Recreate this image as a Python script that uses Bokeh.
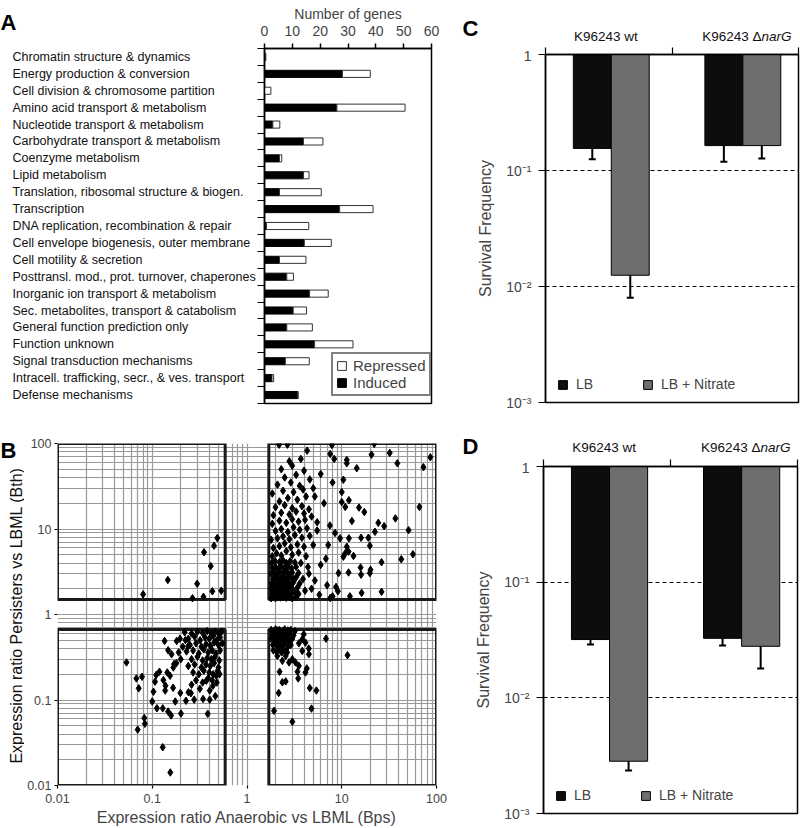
import math
from bokeh.plotting import figure
from bokeh.layouts import row, column
from bokeh.models import (Range1d, FixedTicker, Legend, LegendItem,
                          ColumnDataSource, Whisker, TeeHead)
from bokeh.embed import file_html
from bokeh.resources import INLINE
from bokeh.core.properties import value

FONT = "Liberation Sans"

# ---------------- Panel A data ----------------
categories = [
    "Chromatin structure & dynamics",
    "Energy production & conversion",
    "Cell division & chromosome partition",
    "Amino acid transport & metabolism",
    "Nucleotide transport & metabolism",
    "Carbohydrate transport & metabolism",
    "Coenzyme metabolism",
    "Lipid metabolism",
    "Translation, ribosomal structure & biogen.",
    "Transcription",
    "DNA replication, recombination & repair",
    "Cell envelope biogenesis, outer membrane",
    "Cell motility & secretion",
    "Posttransl. mod., prot. turnover, chaperones",
    "Inorganic ion transport & metabolism",
    "Sec. metabolites, transport & catabolism",
    "General function prediction only",
    "Function unknown",
    "Signal transduction mechanisms",
    "Intracell. trafficking, secr., & ves. transport",
    "Defense mechanisms",
]
induced = [0.4, 28, 0, 26, 3, 14, 5.4, 14, 5.4, 27, 0.7, 14.3, 5.4, 8, 16.2, 10.3, 8, 18, 7.5, 2.7, 12]
repressed = [0, 10, 2.3, 24.5, 2.5, 7, 0.8, 2, 15, 12, 15.2, 9.7, 9.5, 2.4, 6.7, 4.8, 9.2, 13.8, 8.6, 0.6, 0]
gene_ticks = [0, 10, 20, 30, 40, 50, 60]

# ---------------- Panel B data ----------------
x_fold = 1.7   # anaerobic fold-change threshold
y_fold = 1.5   # persister fold-change threshold
upper_left = [(0.080, 1.72), (0.146, 2.53), (0.266, 1.55), (0.298, 2.29), (0.347, 1.61),
              (0.352, 5.35), (0.414, 3.68), (0.431, 1.87), (0.449, 6.38), (0.486, 7.84),
              (0.535, 1.90)]
upper_right = [
    (1.8, 1.55), (1.9, 1.6), (2.0, 1.55), (2.1, 1.62), (2.25, 1.58), (2.4, 1.6), (2.6, 1.57), (2.8, 1.6), (3.0, 1.55), (3.3, 1.6),
    (1.85, 1.75), (1.95, 1.8), (2.05, 1.72), (2.2, 1.78), (2.35, 1.85), (2.5, 1.75), (2.7, 1.82), (2.9, 1.76), (3.2, 1.8), (3.5, 1.74),
    (1.8, 2.0), (1.92, 2.05), (2.02, 1.95), (2.15, 2.1), (2.3, 2.0), (2.45, 2.08), (2.6, 1.98), (2.75, 2.1), (3.0, 2.02), (3.4, 2.06),
    (1.82, 2.3), (1.95, 2.25), (2.1, 2.35), (2.25, 2.28), (2.4, 2.4), (2.55, 2.3), (2.7, 2.36), (2.9, 2.25), (3.1, 2.4), (3.6, 2.3),
    (1.88, 2.6), (2.0, 2.7), (2.12, 2.55), (2.28, 2.65), (2.45, 2.75), (2.6, 2.6), (2.8, 2.7), (3.05, 2.62), (3.3, 2.72),
    (1.8, 3.0), (1.95, 3.1), (2.08, 2.95), (2.2, 3.15), (2.38, 3.05), (2.55, 3.2), (2.75, 3.0), (3.0, 3.1), (3.5, 3.05),
    (1.85, 3.5), (2.0, 3.6), (2.15, 3.4), (2.3, 3.7), (2.5, 3.5), (2.7, 3.65), (2.95, 3.45), (3.3, 3.6),
    (1.82, 4.0), (1.98, 4.2), (2.2, 4.1), (2.4, 4.3), (2.6, 4.0), (2.85, 4.2), (3.2, 4.05),
    (1.85, 4.8), (2.05, 5.2), (2.3, 4.9), (2.6, 5.5), (3.0, 5.0), (3.5, 5.3), (4.2, 4.8),
    (1.9, 6.0), (2.2, 6.3), (2.5, 6.8), (2.9, 6.1), (3.4, 6.6), (4.0, 6.2), (5.0, 6.5),
    (1.8, 7.5), (2.1, 7.8), (2.4, 8.2), (2.8, 7.6), (3.2, 8.5), (3.8, 7.9), (4.6, 8.3),
    (2.0, 9.5), (2.3, 10.0), (2.7, 9.2), (3.1, 10.5), (3.6, 9.8), (4.3, 10.2), (5.5, 9.6),
    (1.85, 11.5), (2.2, 12.5), (2.6, 11.8), (3.0, 13.0), (3.5, 12.2), (4.1, 12.8),
    (1.9, 14.5), (2.3, 15.5), (2.8, 14.8), (3.3, 16.0), (4.0, 15.2), (4.8, 14.0),
    (2.0, 18.0), (2.5, 19.0), (3.0, 17.5), (3.8, 18.5), (4.5, 17.0),
    (2.2, 21.0), (2.7, 23.0), (3.4, 22.0), (4.2, 24.0),
    (1.85, 26.0), (2.4, 28.0), (3.1, 27.0), (3.9, 29.0),
    (2.1, 33.0), (2.9, 35.0), (3.6, 32.0),
    (2.5, 40.0), (3.3, 43.0), (4.6, 38.0),
    (2.3, 50.0), (3.0, 55.0), (4.0, 48.0),
    (2.8, 62.0), (3.7, 66.0),
    (2.18, 97), (2.67, 97), (4.31, 82.5), (7.87, 96), (7.56, 75.5), (8.33, 66), (11.3, 64.3), (11.3, 58.7),
    (14.4, 51.4), (20.6, 74.1), (22.0, 99), (32.1, 77.6), (38.6, 58.7), (72.8, 52.8), (86.1, 69.0),
    (66.1, 18.1), (36.8, 13.3), (50.7, 9.7), (56.4, 5.07), (42.5, 4.43), (28.0, 10.8), (24.3, 11.8),
    (22.4, 9.27), (26.3, 4.09), (26.3, 1.84), (19.1, 7.9), (16.0, 7.9), (19.8, 6.38), (19.8, 3.05),
    (20.1, 3.33), (16.0, 2.92), (15.8, 3.54), (17.3, 15.8), (15.2, 17.8), (12.8, 12.4), (10.4, 37.7),
    (10.0, 27.0), (11.9, 21.7), (10.0, 20.7), (10.9, 18.1), (11.9, 7.78), (9.6, 7.78), (11.3, 6.21),
    (11.8, 5.43), (10.9, 5.21), (10.4, 4.75), (13.3, 4.84), (11.8, 3.10), (9.25, 3.05), (16.2, 1.79),
    (12.2, 1.63), (7.56, 1.56), (8.0, 1.63), (9.1, 1.87), (8.7, 2.1),
    (4.5, 3.0), (5.2, 2.5), (6.0, 3.8), (7.0, 2.2), (5.5, 12.0), (6.5, 20.0), (7.5, 11.0), (5.0, 30.0),
    (6.0, 44.0), (8.0, 35.0), (4.8, 2.0), (5.8, 1.7), (6.8, 4.5), (7.2, 6.5), (8.5, 9.0), (5.2, 24.0),
    (4.4, 3.6), (3.9, 2.6), (4.1, 1.9), (3.7, 4.0),
]
lower_left = [
    (0.0535, 0.275), (0.068, 0.179), (0.078, 0.187), (0.072, 0.137), (0.0824, 0.0615), (0.0836, 0.0527),
    (0.0702, 0.045), (0.129, 0.028), (0.155, 0.0142), (0.100, 0.096), (0.112, 0.080), (0.129, 0.080),
    (0.147, 0.0733), (0.158, 0.066), (0.201, 0.0695), (0.385, 0.069), (0.175, 0.096), (0.227, 0.098),
    (0.277, 0.101), (0.344, 0.103), (0.404, 0.101), (0.463, 0.111), (0.103, 0.125), (0.119, 0.214),
    (0.110, 0.196), (0.107, 0.164), (0.131, 0.171), (0.138, 0.147), (0.144, 0.210), (0.154, 0.192),
    (0.167, 0.240), (0.166, 0.139), (0.137, 0.129), (0.198, 0.121), (0.241, 0.123), (0.256, 0.120),
    (0.260, 0.151), (0.318, 0.135), (0.372, 0.168), (0.437, 0.147), (0.404, 0.129), (0.474, 0.192),
    (0.514, 0.201), (0.135, 0.490), (0.147, 0.382), (0.160, 0.343), (0.170, 0.263), (0.181, 0.490),
    (0.196, 0.521), (0.224, 0.503), (0.240, 0.428),
    (0.22, 0.62), (0.26, 0.6), (0.3, 0.63), (0.34, 0.61), (0.38, 0.64), (0.42, 0.6), (0.46, 0.62), (0.5, 0.6), (0.54, 0.63),
    (0.24, 0.52), (0.28, 0.55), (0.32, 0.5), (0.36, 0.54), (0.4, 0.52), (0.44, 0.56), (0.48, 0.5), (0.52, 0.54),
    (0.25, 0.44), (0.29, 0.46), (0.33, 0.42), (0.37, 0.45), (0.41, 0.43), (0.45, 0.47), (0.5, 0.44), (0.55, 0.46),
    (0.23, 0.37), (0.27, 0.38), (0.31, 0.35), (0.35, 0.39), (0.39, 0.36), (0.43, 0.38), (0.47, 0.35), (0.52, 0.38),
    (0.26, 0.3), (0.3, 0.32), (0.34, 0.29), (0.38, 0.31), (0.42, 0.3), (0.46, 0.32), (0.51, 0.29),
    (0.24, 0.25), (0.28, 0.26), (0.33, 0.24), (0.37, 0.26), (0.41, 0.25), (0.45, 0.27), (0.5, 0.24),
    (0.27, 0.21), (0.31, 0.2), (0.35, 0.22), (0.4, 0.21), (0.44, 0.2), (0.49, 0.22),
    (0.29, 0.17), (0.34, 0.16), (0.39, 0.18), (0.43, 0.17), (0.48, 0.16),
    (0.2, 0.3), (0.21, 0.42), (0.19, 0.36), (0.18, 0.27),
]
lower_right = [
    (6.82, 0.522), (11.5, 0.334), (2.21, 0.214), (2.36, 0.161), (2.56, 0.165), (2.16, 0.121), (1.93, 0.0747),
    (3.01, 0.0557), (3.47, 0.179), (3.41, 0.214), (3.53, 0.251), (4.14, 0.210), (4.28, 0.234), (4.6, 0.138),
    (5.4, 0.129), (4.79, 0.0794), (4.5, 0.343), (3.83, 0.375), (4.49, 0.40), (3.01, 0.300), (3.25, 0.275),
    (2.78, 0.275), (2.36, 0.287), (2.09, 0.328), (2.56, 0.328), (3.83, 0.513), (4.14, 0.469), (3.53, 0.46),
    (3.97, 0.586),
    (1.8, 0.66), (1.9, 0.64), (2.0, 0.67), (2.1, 0.65), (2.2, 0.66), (2.35, 0.64), (2.5, 0.67), (2.7, 0.65), (2.9, 0.66), (3.2, 0.64),
    (1.85, 0.58), (1.95, 0.6), (2.05, 0.56), (2.15, 0.59), (2.3, 0.57), (2.45, 0.6), (2.6, 0.56), (2.8, 0.59), (3.1, 0.57),
    (1.8, 0.52), (1.92, 0.5), (2.02, 0.53), (2.12, 0.49), (2.25, 0.52), (2.4, 0.5), (2.55, 0.53), (2.75, 0.49), (3.0, 0.52),
    (1.88, 0.44), (2.0, 0.46), (2.1, 0.42), (2.2, 0.45), (2.35, 0.43), (2.5, 0.46), (2.7, 0.42), (2.9, 0.44),
    (1.9, 0.38), (2.05, 0.37), (2.18, 0.39), (2.32, 0.36), (2.48, 0.38), (2.65, 0.36),
]
ratio_ticks = [0.01, 0.1, 1, 10, 100]

# ---------------- Panel C / D data ----------------
strain_prefix = ["K96243 wt", "K96243 \u0394"]
strain_gene = ["", "narG"]
c_lb = [0.155, 0.164]
c_lb_lo = [0.125, 0.119]
c_lb_hi = [0.19, 0.22]
c_nit = [0.0125, 0.164]
c_nit_lo = [0.0080, 0.127]
c_nit_hi = [0.0171, 0.203]
d_lb = [0.0319, 0.0327]
d_lb_lo = [0.0289, 0.0283]
d_lb_hi = [0.035, 0.037]
d_nit = [0.00283, 0.0279]
d_nit_lo = [0.00235, 0.0179]
d_nit_hi = [0.00332, 0.0381]
surv_ticks = [0.001, 0.01, 0.1, 1]
surv_labels = ["10\u207b\u00b3", "10\u207b\u00b2", "10\u207b\u00b9", "1"]

COMMON = dict(output_backend="svg", toolbar_location=None, frame_align=False)


def bare(width, height, x_range, y_range):
    f = figure(width=width, height=height, x_range=x_range, y_range=y_range,
               x_axis_location=None, y_axis_location=None, min_border=0,
               min_border_left=0, min_border_right=0, min_border_top=0, min_border_bottom=0,
               **COMMON)
    f.grid.visible = False
    f.outline_line_color = None
    return f


# ================= Panel A =================
n = len(categories)
row_y = [n - i - 0.5 for i in range(n)]
A_H = 425
A_TOP = 48
A_BOT = 22
A_FRAME_H = A_H - A_TOP - A_BOT
row_px = A_FRAME_H / n

a_lab = bare(257, A_H, Range1d(0, 257), Range1d(-A_BOT / row_px, n + A_TOP / row_px))
a_lab.text(x=[12] * n, y=row_y, text=categories, text_font=value(FONT), text_font_size="12.5px",
           text_baseline="middle", text_align="left", text_color="#111111")
a_lab.text(x=[0], y=[n + (A_TOP - 22) / row_px], text=["A"], text_font=value(FONT),
           text_font_style="bold", text_font_size="22px", text_baseline="alphabetic",
           text_align="left", text_color="black")

a_bar = figure(width=198, height=A_H, x_range=Range1d(0, 60), y_range=Range1d(0, n),
               x_axis_location="above",
               min_border_left=6, min_border_right=24, min_border_top=A_TOP, min_border_bottom=A_BOT,
               **COMMON)
a_bar.grid.visible = False
a_bar.outline_line_color = "black"
a_bar.outline_line_width = 1.5
xa = a_bar.xaxis[0]
xa.ticker = FixedTicker(ticks=gene_ticks)
xa.axis_label = "Number of genes"
xa.axis_label_text_font = FONT
xa.axis_label_text_font_size = "14px"
xa.axis_label_text_font_style = "normal"
xa.axis_label_standoff = 1
xa.major_label_text_font = FONT
xa.major_label_text_font_size = "14px"
xa.major_label_standoff = 8
xa.major_tick_out = 5
xa.major_tick_in = 0
xa.minor_tick_line_color = None
xa.axis_line_width = 1.5
xa.major_tick_line_width = 1.5
ya = a_bar.yaxis[0]
ya.ticker = FixedTicker(ticks=[], minor_ticks=list(range(n + 1)))
ya.minor_tick_out = 7
ya.minor_tick_in = 0
ya.minor_tick_line_color = "black"
ya.minor_tick_line_width = 1.2
ya.axis_line_width = 1.5

total = [i + r for i, r in zip(induced, repressed)]
asrc = ColumnDataSource(dict(y=row_y, ind=induced, tot=total))
r_ind = a_bar.hbar(y="y", left=0, right="ind", height=0.42, source=asrc,
                   fill_color="black", line_color="black", line_width=1)
r_rep = a_bar.hbar(y="y", left="ind", right="tot", height=0.42, source=asrc,
                   fill_color="white", line_color="#333333", line_width=1)
a_leg = Legend(items=[LegendItem(label="Repressed", renderers=[r_rep]),
                      LegendItem(label="Induced", renderers=[r_ind])],
               location=(67, 7), orientation="vertical",
               label_text_font=FONT, label_text_font_size="15px", label_text_line_height=1.0,
               glyph_width=11, glyph_height=11, label_height=12, label_standoff=6,
               spacing=0, padding=3, margin=0,
               border_line_color="black", border_line_width=2, background_fill_color="white")
a_bar.add_layout(a_leg)

# ================= Panel B =================
B_H = 403
B_TOP = 18
B_BOT = 41
B_SIDE = 24
b_left = bare(B_SIDE, B_H, Range1d(0, B_SIDE), Range1d(0, B_H))
b_left.text(x=[0], y=[B_H - (450 - 425)], text=["B"], text_font=value(FONT),
            text_font_style="bold", text_font_size="22px", text_baseline="alphabetic",
            text_align="left", text_color="black")
b_left.text(x=[16], y=[B_BOT + (B_H - B_TOP - B_BOT) / 2],
            text=["Expression ratio Persisters vs LBML (Bth)"], angle=math.pi / 2,
            text_font=value(FONT), text_font_size="16px", text_baseline="middle",
            text_align="center", text_color="#111111")

b = figure(width=455 - B_SIDE, height=B_H, x_axis_type="log", y_axis_type="log",
           x_range=Range1d(0.01, 100), y_range=Range1d(0.01, 100),
           min_border_left=53 - B_SIDE, min_border_right=19, min_border_top=B_TOP,
           min_border_bottom=B_BOT, **COMMON)
b.outline_line_color = None
minor = [m * 10.0 ** k for k in range(-2, 2) for m in range(2, 10)]
for ax in (b.xaxis[0], b.yaxis[0]):
    ax.ticker = FixedTicker(ticks=ratio_ticks, minor_ticks=minor)
    ax.major_label_overrides = {t: ("%g" % t) for t in ratio_ticks}
    ax.major_label_text_font = FONT
    ax.major_label_text_font_size = "12.5px"
    ax.major_label_standoff = 2
    ax.major_tick_out = 3
    ax.major_tick_in = 0
    ax.minor_tick_line_color = None
    ax.axis_line_color = None
    ax.major_tick_line_color = "black"
    ax.major_tick_line_width = 1.2
b.xaxis[0].axis_label = "Expression ratio Anaerobic vs LBML (Bps)"
b.xaxis[0].axis_label_text_font = FONT
b.xaxis[0].axis_label_text_font_size = "16px"
b.xaxis[0].axis_label_text_font_style = "normal"
b.xaxis[0].axis_label_standoff = 3
b.xaxis[0].major_label_standoff = 4
for g in (b.xgrid[0], b.ygrid[0]):
    g.grid_line_color = "#999999"
    g.grid_line_width = 1.2
    g.minor_grid_line_color = "#999999"
    g.minor_grid_line_width = 1.2

b.quad(left=[0.01, x_fold, 0.01, x_fold], right=[1 / x_fold, 100, 1 / x_fold, 100],
       bottom=[y_fold, y_fold, 0.01, 0.01], top=[100, 100, 1 / y_fold, 1 / y_fold],
       fill_color=None, line_color="#1a1a1a", line_width=3)
pts = upper_left + upper_right + lower_left + lower_right
b.scatter(x=[p[0] for p in pts], y=[p[1] for p in pts], marker="diamond", size=7.5,
          fill_color="black", line_color="black")

# ================= Panels C, D =================
group_centers = [0.52, 1.56]
label_centers = [0.478, 1.708]
bar_w = 0.30
R_W = 345


def header(height, left, frame_w, letter, letter_base_from_top, label_from_top):
    unit = frame_w / 2.0
    h = bare(R_W, height, Range1d(-left / unit, (R_W - left) / unit), Range1d(0, height))
    h.text(x=[-(left - 7) / unit], y=[height - letter_base_from_top], text=[letter],
           text_font=value(FONT), text_font_style="bold", text_font_size="22px",
           text_baseline="alphabetic", text_align="left", text_color="black")
    ly = height - label_from_top
    h.text(x=[label_centers[0]], y=[ly], text=[strain_prefix[0]], text_font=value(FONT),
           text_font_size="13.5px", text_baseline="middle", text_align="center", text_color="#111111")
    h.text(x=[label_centers[1]], y=[ly], text=[strain_prefix[1]], text_font=value(FONT),
           text_font_size="13.5px", text_baseline="middle", text_align="right", text_color="#111111")
    h.text(x=[label_centers[1]], y=[ly], text=[strain_gene[1]], text_font=value(FONT),
           text_font_size="13.5px", text_font_style="italic", text_baseline="middle",
           text_align="left", text_color="#111111")
    return h


def survival(lb, lb_lo, lb_hi, nit, nit_lo, nit_hi, height, left, frame_w, frame_h):
    p = figure(width=R_W, height=height, x_range=Range1d(0, 2), y_axis_type="log",
               y_range=Range1d(1e-3, 1), x_axis_location="above",
               min_border_left=left, min_border_right=R_W - left - frame_w,
               min_border_top=7, min_border_bottom=height - 7 - frame_h, **COMMON)
    p.outline_line_color = "black"
    p.outline_line_width = 1.5
    p.xgrid.visible = False
    p.ygrid.ticker = FixedTicker(ticks=[0.01, 0.1])
    p.ygrid.grid_line_color = "black"
    p.ygrid.grid_line_dash = "4 3"
    p.ygrid.grid_line_width = 1
    xa = p.xaxis[0]
    xa.ticker = FixedTicker(ticks=[], minor_ticks=[0, 1, 2])
    xa.minor_tick_out = 7
    xa.minor_tick_in = 0
    xa.minor_tick_line_color = "black"
    xa.minor_tick_line_width = 1.2
    xa.axis_line_width = 1.5
    ya = p.yaxis[0]
    ya.ticker = FixedTicker(ticks=surv_ticks)
    ya.major_label_overrides = dict(zip(surv_ticks, surv_labels))
    ya.major_label_text_font = FONT
    ya.major_label_text_font_size = "14px"
    ya.major_label_standoff = 7
    ya.major_tick_out = 7
    ya.major_tick_in = 0
    ya.major_tick_line_width = 1.2
    ya.minor_tick_line_color = None
    ya.axis_line_width = 1.5
    ya.axis_label = "Survival Frequency"
    ya.axis_label_text_font = FONT
    ya.axis_label_text_font_size = "16px"
    ya.axis_label_text_font_style = "normal"
    ya.axis_label_standoff = 9

    xs_lb = [cc - bar_w / 2 for cc in group_centers]
    xs_n = [cc + bar_w / 2 for cc in group_centers]
    r_lb = p.vbar(x=xs_lb, width=bar_w, top=1, bottom=lb, fill_color="#0d0d0d",
                  line_color="black", line_width=1)
    r_n = p.vbar(x=xs_n, width=bar_w, top=1, bottom=nit, fill_color="#6e6e6e",
                 line_color="black", line_width=1)
    esrc = ColumnDataSource(dict(x=xs_lb + xs_n, lo=lb_lo + nit_lo, hi=lb_hi + nit_hi))
    p.add_layout(Whisker(source=esrc, base="x", lower="lo", upper="hi", dimension="height",
                         line_color="black", line_width=2,
                         lower_head=TeeHead(size=7, line_width=2, line_color="black"),
                         upper_head=TeeHead(size=7, line_width=2, line_color="black")))
    leg = Legend(items=[LegendItem(label="LB", renderers=[r_lb]),
                        LegendItem(label="LB + Nitrate", renderers=[r_n])],
                 location=(12, 10), orientation="horizontal",
                 label_text_font=FONT, label_text_font_size="14px",
                 glyph_width=11, glyph_height=11, label_height=12, label_standoff=8,
                 spacing=46, padding=0, margin=0,
                 border_line_color=None, background_fill_alpha=0)
    p.add_layout(leg)
    return p


c_head = header(47, 90, 253, "C", 28, 36)
c = survival(c_lb, c_lb_lo, c_lb_hi, c_nit, c_nit_lo, c_nit_hi, 373, 90, 253, 348)
d_head = header(39, 88, 254, "D", 446 - 420, 446.7 - 420)
d = survival(d_lb, d_lb_lo, d_lb_hi, d_nit, d_nit_lo, d_nit_hi, 369, 88, 254, 347)

layout = row(column(row(a_lab, a_bar), row(b_left, b)), column(c_head, c, d_head, d))
open("out.html", "w").write(file_html(layout, INLINE))
